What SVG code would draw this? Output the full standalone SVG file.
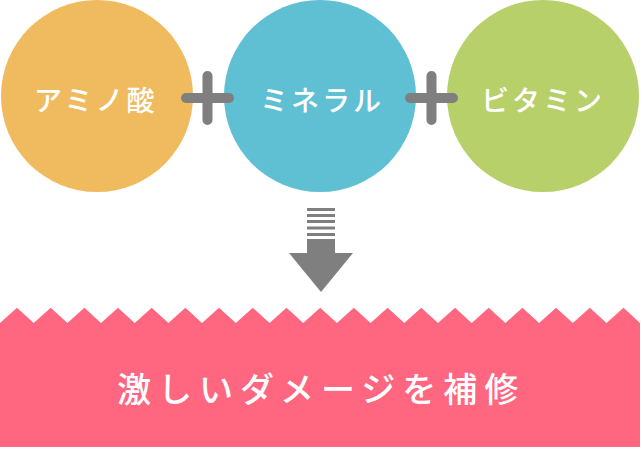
<svg xmlns="http://www.w3.org/2000/svg" width="641" height="450" viewBox="0 0 641 450">
<style>
.lbl{font-family:"Noto Sans CJK JP","Noto Sans",sans-serif;font-weight:500;fill:#fff;font-size:28px;letter-spacing:3px;dominant-baseline:central}
.big{font-family:"Noto Sans CJK JP","Noto Sans",sans-serif;font-weight:500;fill:#fff;font-size:34px;letter-spacing:7px;dominant-baseline:central}
.plus{stroke:#7f7f7f;stroke-width:10;stroke-linecap:round;fill:none}
</style>
<g id="amino"><circle cx="97" cy="96" r="96" fill="#F0BA5F"/><text class="lbl" x="34" y="99">アミノ酸</text></g>
<g id="mineral"><circle cx="320" cy="96" r="96" fill="#5FBFD3"/><text class="lbl" x="260" y="99">ミネラル</text></g>
<g id="vitamin"><circle cx="543" cy="96" r="96" fill="#B7D06A"/><text class="lbl" x="481" y="99">ビタミン</text></g>
<g id="connectors">
<path class="plus" d="M186 98H229M207.5 76V120"/>
<path class="plus" d="M410 98H453M431.5 76V120"/>
<g fill="#7f7f7f">
<rect x="307" y="208" width="28" height="3"/>
<rect x="307" y="214" width="28" height="3"/>
<rect x="307" y="220" width="28" height="3"/>
<rect x="307" y="226.5" width="28" height="3"/>
<rect x="307" y="233" width="28" height="3"/>
<path d="M307 239H335V253H353L321 292L289 253H307Z"/>
</g>
</g>
<g id="result">
<path fill="#FF6680" d="M0 323L17 307.7L33.7 323L50.7 307.7L67.4 323L84.4 307.7L101 323L118 307.7L134.7 323L151.7 307.7L168.4 323L185.4 307.7L202 323L219 307.7L235.8 323L252.8 307.7L269.5 323L286.5 307.7L303.2 323L320.2 307.7L336.9 323L353.9 307.7L370.6 323L387.6 307.7L404.3 323L421.3 307.7L438 323L455 307.7L471.7 323L488.7 307.7L505.4 323L522.4 307.7L539.1 323L556.1 307.7L572.8 323L589.8 307.7L606.5 323L623.5 307.7L640 323V447H0Z"/>
<text class="big" x="117" y="387">激しいダメージを補修</text>
</g>
</svg>
